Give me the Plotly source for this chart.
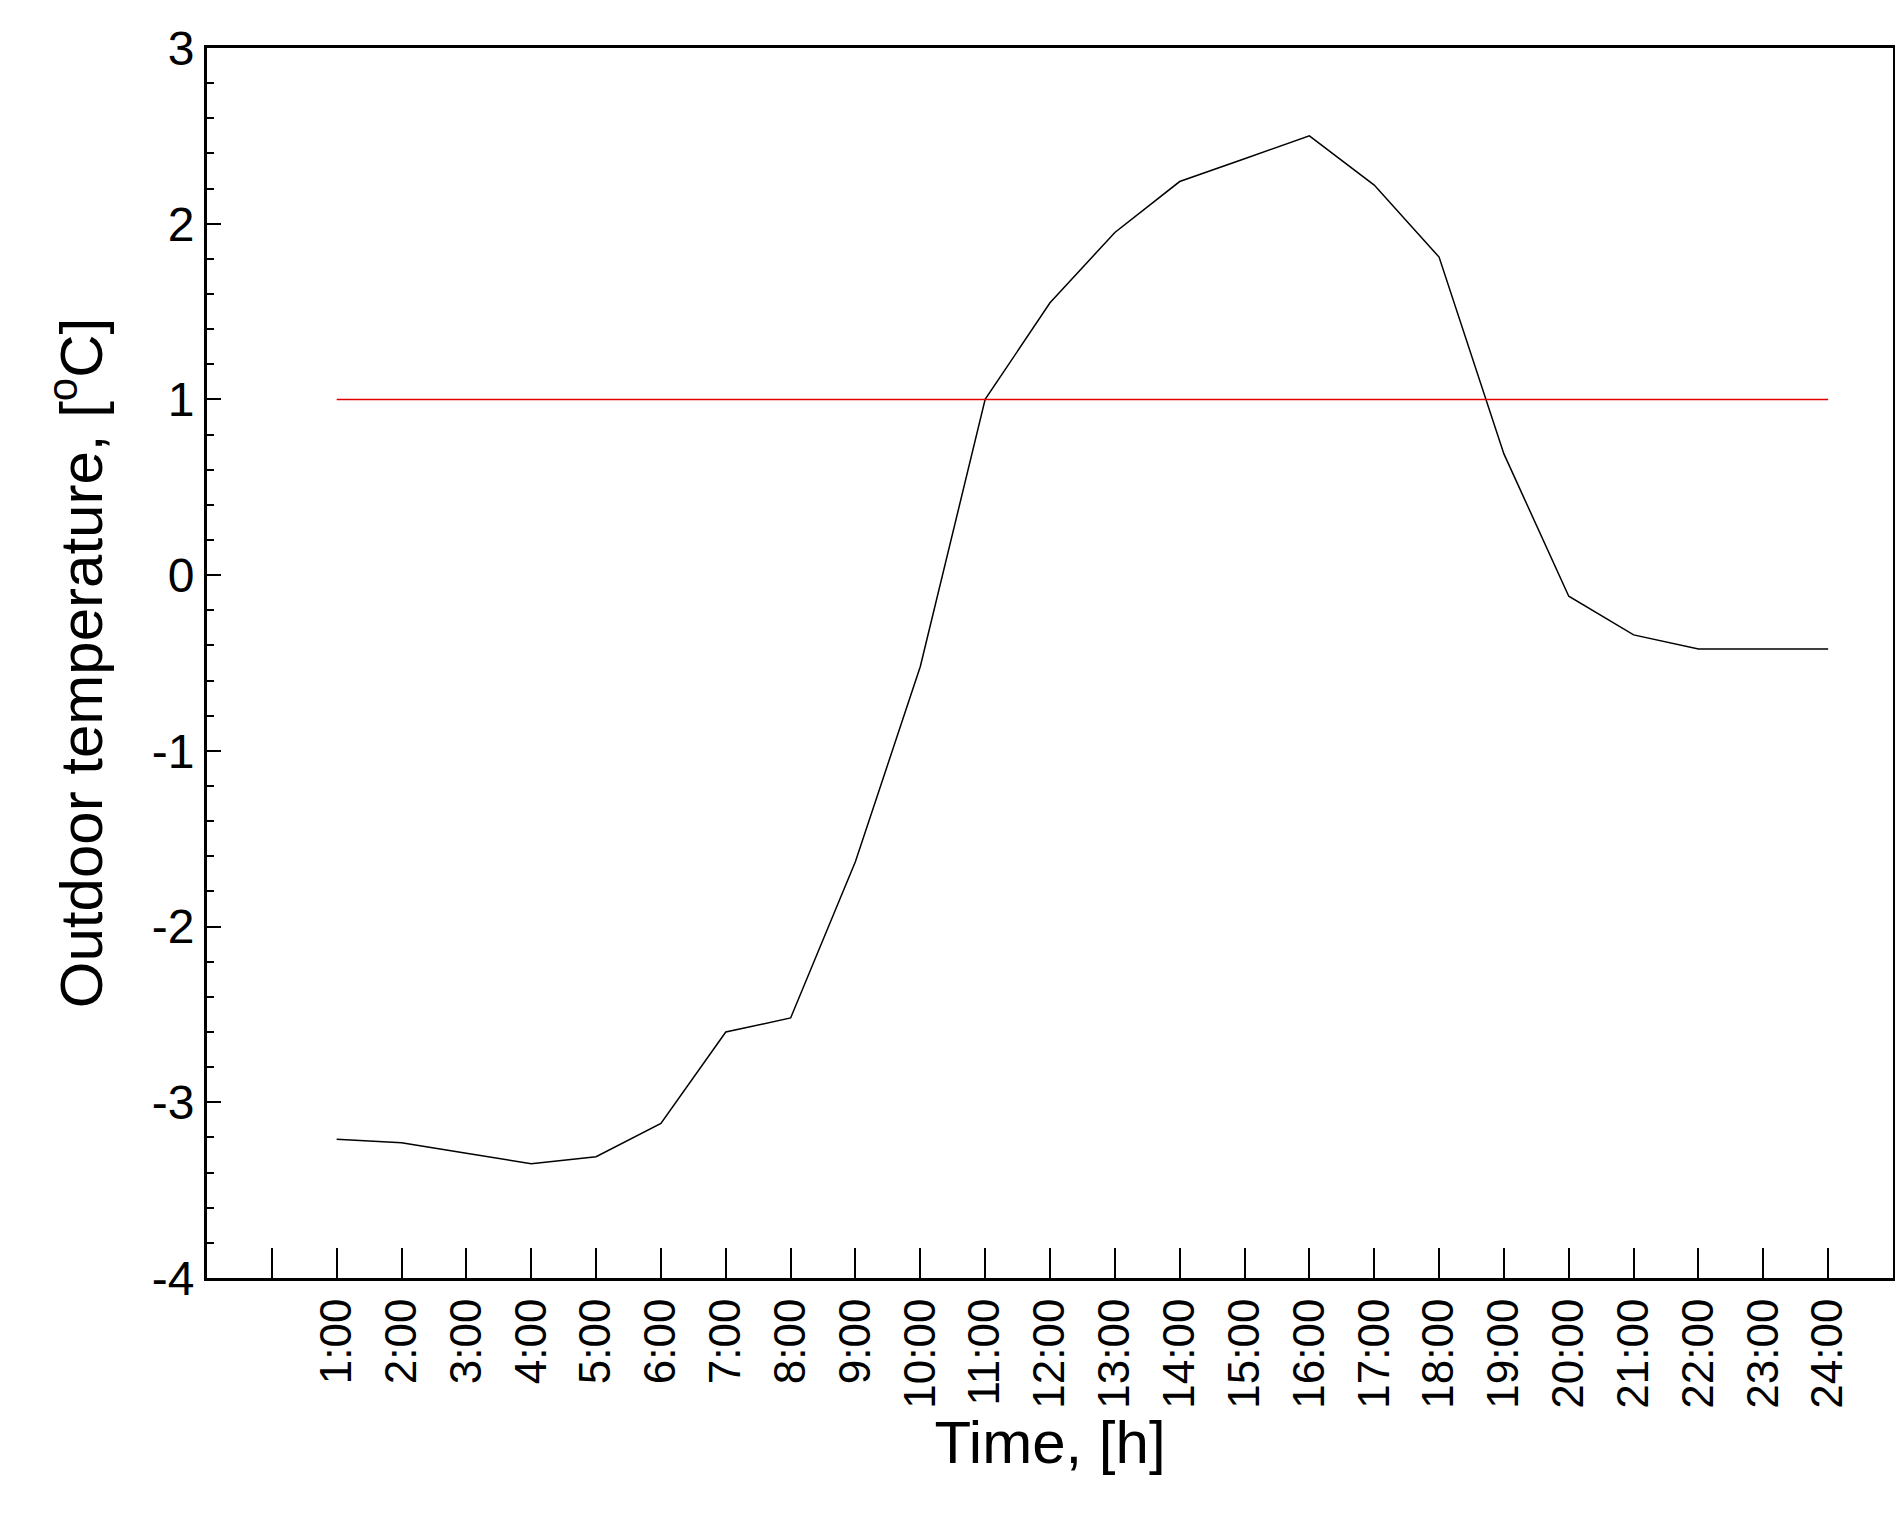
import plotly.graph_objects as go

hours = list(range(1, 25))
labels = [f"{h}:00" for h in hours]
temps = [-3.21, -3.23, -3.29, -3.35, -3.31, -3.12, -2.6, -2.52, -1.63, -0.52, 1.0, 1.55,
         1.95, 2.24, 2.37, 2.5, 2.22, 1.81, 0.69, -0.12, -0.34, -0.42, -0.42, -0.42]
threshold = [1.0] * 24
yticks = [-4, -3, -2, -1, 0, 1, 2, 3]
yticklabels = ["-4", "-3", "-2", "-1", "0", "1", "2", "3"]

fig = go.Figure()
fig.add_trace(go.Scatter(x=hours, y=temps, mode="lines", line=dict(color="black", width=1.5)))
fig.add_trace(go.Scatter(x=hours, y=threshold, mode="lines", line=dict(color="#e00000", width=1.5)))

font = "Liberation Sans Narrow, Arial Narrow, Liberation Sans, Arial"
fig.update_layout(
    width=1903, height=1536, showlegend=False,
    plot_bgcolor="white", paper_bgcolor="white",
    margin=dict(l=199, r=18, t=40, b=266),
    font=dict(family=font, color="black", size=48),
    xaxis=dict(range=[-1, 25], tickmode="array", tickvals=list(range(0, 25)),
               ticktext=[""] + labels, tickangle=-90, ticks="inside", ticklen=30,
               tickwidth=2, tickcolor="black", showgrid=False, zeroline=False,
               showline=True, linecolor="black", linewidth=3, mirror=True,
               tickfont=dict(size=44),
               title=dict(text="Time, [h]", font=dict(size=60), standoff=8)),
    yaxis=dict(range=[-4, 3], tickmode="array", tickvals=yticks, ticktext=yticklabels,
               ticks="inside", ticklen=14, tickwidth=2,
               tickcolor="black", showgrid=False, zeroline=False,
               showline=True, linecolor="black", linewidth=3, mirror=True,
               minor=dict(dtick=0.2, ticks="inside", ticklen=7, tickwidth=2, tickcolor="black"),
               tickfont=dict(size=48),
               title=dict(text="Outdoor temperature, [<sup>o</sup>C]", font=dict(size=60), standoff=30)),
)
fig.write_html("out.html")
